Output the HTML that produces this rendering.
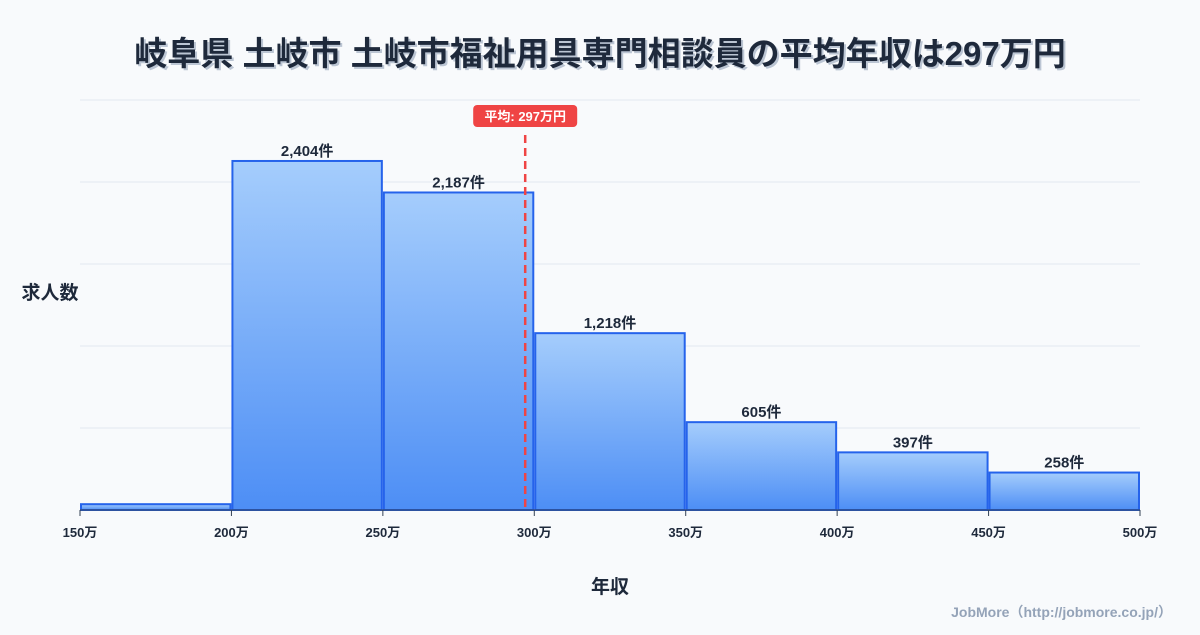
<!DOCTYPE html>
<html><head><meta charset="utf-8"><style>
body{margin:0;background:#f8fafc;font-family:"Liberation Sans","Noto Sans CJK JP",sans-serif;}
svg text{font-family:"Liberation Sans","Noto Sans CJK JP",sans-serif;}
</style></head><body>
<svg id="c" width="1200" height="630" xmlns="http://www.w3.org/2000/svg">
<defs><linearGradient id="g" x1="0" y1="0" x2="0" y2="1"><stop offset="0" stop-color="#a5cdfc"/><stop offset="1" stop-color="#4d8ef5"/></linearGradient></defs>
<rect width="1200" height="630" fill="#f8fafc"/>
<text x="600" y="65" text-anchor="middle" font-size="33" font-weight="bold" fill="#94a3b8" opacity="0.6" transform="translate(2,2)">岐阜県 土岐市 土岐市福祉用具専門相談員の平均年収は297万円</text>
<text x="600" y="65" text-anchor="middle" font-size="33" font-weight="bold" fill="#1e293b">岐阜県 土岐市 土岐市福祉用具専門相談員の平均年収は297万円</text>
<text x="50" y="299" text-anchor="middle" font-size="19" font-weight="bold" fill="#1e293b">求人数</text>
<text x="610" y="593" text-anchor="middle" font-size="19" font-weight="bold" fill="#1e293b">年収</text>
<text x="1172" y="617" text-anchor="end" font-size="14" font-weight="bold" fill="#94a3b8">JobMore（http://jobmore.co.jp/）</text>
<g id="grid"></g><g id="bars"></g><g id="ticks"></g><g id="mean"></g>
</svg>
<script>
const binStarts=[150,200,250,300,350,400,450];
const counts=[40,2404,2187,1218,605,397,258];
const countLabels=["","2,404件","2,187件","1,218件","605件","397件","258件"];
const tickValues=[150,200,250,300,350,400,450,500];
const meanValue=297;
const binWidth=50;
const NS="http://www.w3.org/2000/svg";
const x=v=>80+(v-150)*(1060/350);
const yMax=2824;
const y=v=>510-v/yMax*410;
function mk(t,a,p){const e=document.createElementNS(NS,t);for(const k in a)e.setAttribute(k,a[k]);p.appendChild(e);return e;}
const grid=document.getElementById('grid');
for(let i=0;i<=5;i++){const gy=510-i*82;
const l=mk('line',{x1:80,x2:1140,y1:gy,y2:gy,stroke:'#e2e8f0','stroke-width':1},grid);

}
const bars=document.getElementById('bars');
binStarts.forEach((s,i)=>{
const x0=x(s)+1,x1=x(s+binWidth)-1,yt=y(counts[i]);
const r=mk('rect',{x:x0,y:yt,width:x1-x0,height:510-yt,fill:'url(#g)',stroke:'#2563eb','stroke-width':2},bars);


if(countLabels[i]){const t=mk('text',{x:(x0+x1)/2,y:yt-5,'text-anchor':'middle','font-size':15,'font-weight':'bold',fill:'#1e293b'},bars);t.textContent=countLabels[i];

}
});
const ticks=document.getElementById('ticks');
mk('line',{x1:80,x2:1140,y1:510,y2:510,stroke:'#334155','stroke-width':1},ticks);
tickValues.forEach(v=>{mk('line',{x1:x(v),x2:x(v),y1:510,y2:516,stroke:'#334155','stroke-width':1},ticks);
const t=mk('text',{x:x(v),y:537,'text-anchor':'middle','font-size':13,'font-weight':'bold',fill:'#1e293b'},ticks);t.textContent=v+'万';

});
const mg=document.getElementById('mean');const mx=x(meanValue);
const ml=mk('line',{x1:mx,x2:mx,y1:135,y2:510,stroke:'#ef4444','stroke-width':2.5,'stroke-dasharray':'8,5'},mg);


const mb=mk('rect',{x:mx-52,y:105,width:104,height:22,rx:4,fill:'#ef4444'},mg);


const mt=mk('text',{x:mx,y:121,'text-anchor':'middle','font-size':13,'font-weight':'bold',fill:'#fff'},mg);mt.textContent='平均: '+meanValue+'万円';


</script>
</body></html>
